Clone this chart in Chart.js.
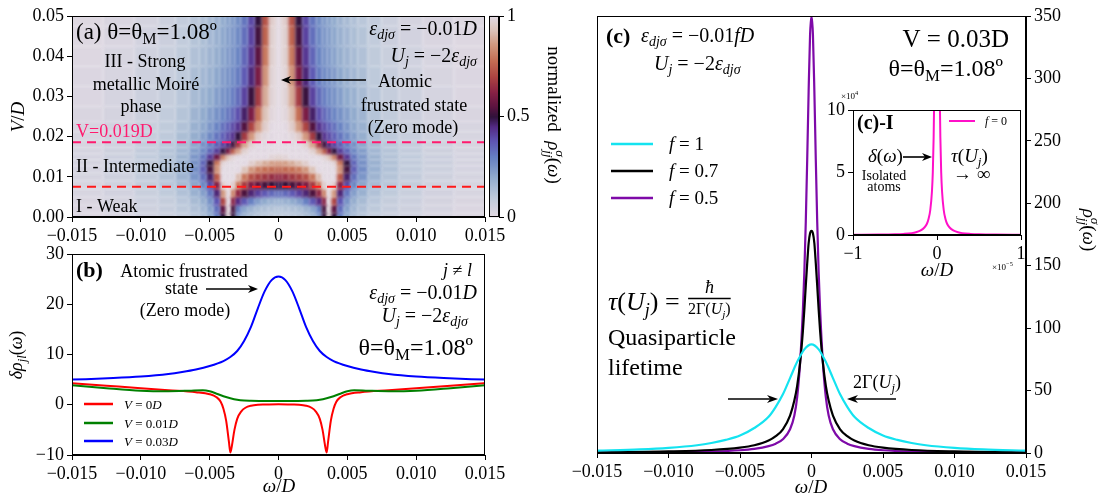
<!DOCTYPE html>
<html><head><meta charset="utf-8">
<script src="https://cdn.jsdelivr.net/npm/chart.js@4.4.0/dist/chart.umd.min.js"></script>
<style>
body{margin:0;background:#fff;width:1098px;height:500px;position:relative;overflow:hidden}
canvas{position:absolute}
</style></head>
<body>
<canvas id="pa" width="515" height="245" style="left:0;top:0"></canvas>
<canvas id="cb" width="85" height="245" style="left:480px;top:0"></canvas>
<canvas id="pb" width="515" height="265" style="left:0;top:235px"></canvas>
<canvas id="pc" width="538" height="500" style="left:560px;top:0"></canvas>
<canvas id="pi" width="228" height="197" style="left:810px;top:88px"></canvas>
<script>
// ---- panel (a): heat map, half profiles in |omega| (symmetric about 0)
const heatOmega = [0,0.0005,0.001,0.0015,0.002,0.0025,0.003,0.00335,0.0037,0.00405,0.0045,0.005,0.0055,0.006,0.007,0.008,0.0095,0.0115,0.014];
const heatV = [0,0.002,0.004,0.006,0.008,0.010,0.012,0.0135,0.015,0.0165,0.018,0.020,0.0225,0.025,0.030,0.035,0.040,0.045,0.050];
const heatRows = [
  [0.10,0.10,0.11,0.12,0.14,0.17,0.24,0.50,0.98,0.50,0.30,0.20,0.15,0.12,0.09,0.07,0.05,0.03,0.02],
  [0.12,0.12,0.13,0.14,0.17,0.21,0.30,0.52,0.99,0.55,0.33,0.22,0.16,0.13,0.10,0.075,0.055,0.035,0.02],
  [0.18,0.18,0.20,0.23,0.30,0.37,0.45,0.62,1.00,0.70,0.38,0.26,0.19,0.15,0.11,0.08,0.06,0.04,0.025],
  [0.33,0.34,0.37,0.41,0.46,0.53,0.63,0.82,1.00,0.86,0.46,0.32,0.23,0.18,0.13,0.095,0.07,0.045,0.03],
  [0.49,0.50,0.52,0.55,0.60,0.68,0.80,0.96,1.00,0.96,0.62,0.40,0.28,0.21,0.15,0.11,0.08,0.05,0.03],
  [0.64,0.65,0.67,0.69,0.72,0.80,0.92,1.00,1.00,1.00,0.74,0.47,0.33,0.25,0.17,0.12,0.085,0.055,0.035],
  [0.76,0.77,0.78,0.80,0.85,0.93,1.00,1.00,1.00,1.00,0.85,0.52,0.36,0.27,0.18,0.13,0.09,0.06,0.035],
  [0.86,0.87,0.89,0.92,0.96,1.00,1.00,1.00,1.00,0.98,0.80,0.50,0.35,0.26,0.18,0.13,0.09,0.06,0.035],
  [0.97,0.98,1.00,1.00,1.00,1.00,1.00,0.98,0.93,0.82,0.58,0.43,0.32,0.25,0.17,0.12,0.09,0.06,0.035],
  [1.00,1.00,1.00,1.00,1.00,0.97,0.88,0.75,0.60,0.50,0.42,0.35,0.28,0.23,0.16,0.12,0.085,0.055,0.035],
  [1.00,1.00,1.00,1.00,0.97,0.88,0.68,0.52,0.46,0.41,0.36,0.31,0.26,0.21,0.15,0.11,0.08,0.05,0.03],
  [1.00,1.00,0.99,0.96,0.86,0.68,0.50,0.44,0.40,0.36,0.32,0.28,0.23,0.19,0.14,0.10,0.075,0.05,0.03],
  [1.00,1.00,0.96,0.86,0.70,0.54,0.44,0.40,0.36,0.33,0.29,0.25,0.21,0.18,0.13,0.095,0.07,0.045,0.03],
  [1.00,0.99,0.93,0.78,0.60,0.47,0.39,0.35,0.32,0.29,0.26,0.23,0.20,0.17,0.12,0.09,0.065,0.04,0.025],
  [1.00,0.98,0.89,0.68,0.51,0.41,0.34,0.31,0.28,0.26,0.23,0.20,0.18,0.15,0.11,0.08,0.06,0.035,0.02],
  [1.00,0.98,0.85,0.60,0.46,0.37,0.31,0.28,0.26,0.24,0.21,0.18,0.16,0.14,0.10,0.075,0.055,0.03,0.02],
  [1.00,0.97,0.80,0.55,0.43,0.35,0.29,0.26,0.24,0.22,0.19,0.17,0.15,0.13,0.095,0.07,0.05,0.03,0.015],
  [1.00,0.97,0.76,0.52,0.41,0.33,0.28,0.25,0.23,0.21,0.18,0.16,0.14,0.12,0.09,0.065,0.045,0.025,0.015],
  [1.00,0.96,0.73,0.50,0.40,0.32,0.27,0.24,0.22,0.20,0.17,0.15,0.13,0.11,0.085,0.06,0.04,0.025,0.01]
];
const regionLines = [0.0186, 0.0075];

// ---- panel (b)
const bOmegaBlue = [-0.015,-0.012,-0.01,-0.008,-0.007,-0.006,-0.005,-0.004,-0.0035,-0.003,-0.0025,-0.002,-0.0015,-0.001,-0.0005,0,0.0005,0.001,0.0015,0.002,0.0025,0.003,0.0035,0.004,0.005,0.006,0.007,0.008,0.01,0.012,0.015];
const bBlue = [5.0,5.3,5.6,6.1,6.5,7.0,7.7,8.7,9.5,10.7,12.7,15.5,19.2,22.6,24.8,25.5,24.8,22.6,19.2,15.5,12.7,10.7,9.5,8.7,7.7,7.0,6.5,6.1,5.6,5.3,5.0];
const bOmegaRed = [-0.015,-0.0125,-0.01,-0.008,-0.006,-0.005,-0.0045,-0.0042,-0.004,-0.0038,-0.0036,-0.0035,-0.0034,-0.0032,-0.003,-0.0027,-0.0024,-0.002,-0.0015,-0.001,0,0.001,0.0015,0.002,0.0024,0.0027,0.003,0.0032,0.0034,0.0035,0.0036,0.0038,0.004,0.0042,0.0045,0.005,0.006,0.008,0.01,0.0125,0.015];
const bRed = [4.3,3.8,3.3,2.9,2.5,2.1,1.5,0.6,-0.8,-3.2,-7.4,-9.5,-8.4,-5.0,-2.8,-1.3,-0.6,-0.2,0.0,0.05,0.1,0.05,0.0,-0.2,-0.6,-1.3,-2.8,-5.0,-8.4,-9.5,-7.4,-3.2,-0.8,0.6,1.5,2.1,2.5,2.9,3.3,3.8,4.3];
const bOmegaGreen = [-0.015,-0.0125,-0.01,-0.008,-0.0065,-0.0055,-0.005,-0.0045,-0.004,-0.0035,-0.003,-0.0025,-0.002,-0.001,0,0.001,0.002,0.0025,0.003,0.0035,0.004,0.0045,0.005,0.0055,0.0065,0.008,0.01,0.0125,0.015];
const bGreen = [3.9,3.3,2.8,2.7,2.8,2.9,2.7,2.2,1.7,1.3,1.0,0.85,0.8,0.75,0.75,0.75,0.8,0.85,1.0,1.3,1.7,2.2,2.7,2.9,2.8,2.7,2.8,3.3,3.9];
const bLabels = ['V = 0D','V = 0.01D','V = 0.03D'];

// ---- panel (c)
const cOmegaCyan = [-0.015,-0.012,-0.01,-0.008,-0.007,-0.006,-0.005,-0.004,-0.003,-0.0025,-0.002,-0.0015,-0.001,-0.0005,0,0.0005,0.001,0.0015,0.002,0.0025,0.003,0.004,0.005,0.006,0.007,0.008,0.01,0.012,0.015];
const cCyan = [1.9,2.9,4.1,6.2,8.0,10.5,14,20,29,37,47,60,73,83,87,83,73,60,47,37,29,20,14,10.5,8.0,6.2,4.1,2.9,1.9];
const cOmegaNarrow = [-0.015,-0.01,-0.007,-0.005,-0.004,-0.003,-0.0025,-0.002,-0.0015,-0.0012,-0.001,-0.0008,-0.0006,-0.0005,-0.0004,-0.0003,-0.0002,-0.0001,0,0.0001,0.0002,0.0003,0.0004,0.0005,0.0006,0.0008,0.001,0.0012,0.0015,0.002,0.0025,0.003,0.004,0.005,0.007,0.01,0.015];
const cBlack = [0.6,1.3,2.4,4.3,6.2,10,13.5,19,30,42,54,72,98,115,134,152,168,176,178,176,168,152,134,115,98,72,54,42,30,19,13.5,10,6.2,4.3,2.4,1.3,0.6];
const cPurple = [0.3,0.6,1.2,2.2,3.3,5.5,7.5,11,19,30,45,72,115,145,185,235,290,335,350,335,290,235,185,145,115,72,45,30,19,11,7.5,5.5,3.3,2.2,1.2,0.6,0.3];
const cLabels = ['f = 1','f = 0.7','f = 0.5'];

// ---- inset (c)-I, x in 1e-5, y in 1e4
const iOmega = [-1,-0.7,-0.5,-0.4,-0.3,-0.25,-0.2,-0.15,-0.12,-0.1,-0.08,-0.06,-0.05,-0.04,-0.035,-0.03,-0.02,0,0.02,0.03,0.035,0.04,0.05,0.06,0.08,0.1,0.12,0.15,0.2,0.25,0.3,0.4,0.5,0.7,1];
const iF0 = [0.02,0.035,0.06,0.09,0.15,0.22,0.35,0.6,0.9,1.3,2.0,3.5,5.0,7.8,10.2,14,25,40,25,14,10.2,7.8,5.0,3.5,2.0,1.3,0.9,0.6,0.35,0.22,0.15,0.09,0.06,0.035,0.02];

const FONT = 'Liberation Serif';
Chart.defaults.font.family = FONT;
Chart.defaults.color = '#000';

// twilight colormap stops
const twStops = [
  [0.00,226,217,226],[0.10,190,202,219],[0.20,145,171,205],[0.30,102,128,194],
  [0.38,94,84,178],[0.45,84,43,133],[0.50,48,18,59],[0.55,92,20,64],
  [0.62,135,33,69],[0.70,173,69,66],[0.78,196,110,84],[0.86,210,153,128],
  [0.93,220,195,185],[1.00,226,217,226]
];
function twilight(v){
  v = Math.max(0, Math.min(1, v));
  for(let i=1;i<twStops.length;i++){
    const a=twStops[i-1], b=twStops[i];
    if(v<=b[0]){
      const t=(v-a[0])/(b[0]-a[0]);
      return `rgb(${Math.round(a[1]+(b[1]-a[1])*t)},${Math.round(a[2]+(b[2]-a[2])*t)},${Math.round(a[3]+(b[3]-a[3])*t)})`;
    }
  }
  return 'rgb(226,217,226)';
}

// rich text: segs = [[text, flags]]  i italic, b bold, _ sub, ^ sup, ! no advance
function rich(ctx, x, y, segs, size, align, color){
  ctx.save();
  ctx.fillStyle = color || '#000';
  ctx.textAlign = 'left';
  ctx.textBaseline = 'alphabetic';
  const parts = segs.map(([t, f='']) => {
    let s = size, dy = 0;
    if(f.includes('_')){ s = size*0.7; dy = size*0.22; }
    if(f.includes('^')){ s = size*0.7; dy = -size*0.4; }
    const font = (f.includes('i')?'italic ':'') + (f.includes('b')?'bold ':'') + s + 'px "' + FONT + '"';
    ctx.font = font;
    const w = ctx.measureText(t).width;
    return {t, font, dy, w, adv: f.includes('!') ? 0 : w};
  });
  const W = parts.reduce((a,p)=>a+p.adv,0);
  let cx = align==='center' ? x-W/2 : align==='right' ? x-W : x;
  for(const p of parts){ ctx.font=p.font; ctx.fillText(p.t, cx, y+p.dy); cx+=p.adv; }
  ctx.restore();
  return cx;
}
function richRot(ctx, x, y, segs, size, ang){
  ctx.save(); ctx.translate(x,y); ctx.rotate(ang);
  rich(ctx, 0, 0, segs, size, 'center');
  ctx.restore();
}
function arrow(ctx,x1,y1,x2,y2,hl,hw){
  hl = hl||10; hw = hw||4;
  const a=Math.atan2(y2-y1,x2-x1), c=Math.cos(a), s=Math.sin(a);
  ctx.save(); ctx.strokeStyle='#000'; ctx.fillStyle='#000'; ctx.lineWidth=1.6;
  ctx.beginPath(); ctx.moveTo(x1,y1); ctx.lineTo(x2-hl*c*0.7, y2-hl*s*0.7); ctx.stroke();
  ctx.beginPath(); ctx.moveTo(x2,y2);
  ctx.lineTo(x2-hl*c+hw*s, y2-hl*s-hw*c);
  ctx.lineTo(x2-hl*c*0.7, y2-hl*s*0.7);
  ctx.lineTo(x2-hl*c-hw*s, y2-hl*s+hw*c);
  ctx.closePath(); ctx.fill(); ctx.restore();
}

const fmtW = v => Math.abs(v)<1e-9 ? '0' : (v<0?'−':'') + Math.abs(v).toFixed(3);
const fmtInt = v => (v<0?'−':'') + Math.abs(Math.round(v*1000)/1000);

function axis(extra){
  return Object.assign({
    type:'linear',
    grid:{display:true, drawOnChartArea:false, drawTicks:true, tickLength:5, color:'#000', lineWidth:1},
    border:{display:true, color:'#000', width:1},
  }, extra);
}
function tk(extra){ return Object.assign({color:'#000', font:{family:FONT,size:18}, padding:3, maxRotation:0, autoSkip:false}, extra); }

const framePlugin = {
  id:'frame',
  afterDraw(chart){
    const {ctx, chartArea:a} = chart;
    ctx.save(); ctx.strokeStyle='#000'; ctx.lineWidth=1;
    ctx.strokeRect(Math.round(a.left)+0.5, Math.round(a.top)+0.5, Math.round(a.width)-1, Math.round(a.height)-1);
    ctx.restore();
  }
};
function textPlugin(id, offX, offY, fn){
  return {id, afterDraw(chart){ const ctx=chart.ctx; ctx.save(); ctx.translate(-offX,-offY); fn(ctx, chart); ctx.restore(); }};
}
const noLegend = {legend:{display:false}, tooltip:{enabled:false}};

// ---------- panel (a)
const heatPlugin = {
  id:'heat',
  beforeDatasetsDraw(chart){
    const {ctx, chartArea:a, scales:{x,y}} = chart;
    ctx.save();
    ctx.beginPath(); ctx.rect(a.left,a.top,a.width,a.height); ctx.clip();
    ctx.filter = 'blur(1.5px)';
    const nV = heatV.length, nW = heatOmega.length;
    for(let i=0;i<nV;i++){
      const v0 = i===0 ? -0.003 : (heatV[i-1]+heatV[i])/2;
      const v1 = i===nV-1 ? 0.053 : (heatV[i]+heatV[i+1])/2;
      const yt = y.getPixelForValue(v1), yb = y.getPixelForValue(v0);
      for(let j=0;j<nW;j++){
        const w0 = j===0 ? 0 : (heatOmega[j-1]+heatOmega[j])/2;
        const w1 = j===nW-1 ? 0.017 : (heatOmega[j]+heatOmega[j+1])/2;
        ctx.fillStyle = twilight(heatRows[i][j]);
        for(const sg of [1,-1]){
          const xa = x.getPixelForValue(sg*w0), xb = x.getPixelForValue(sg*w1);
          ctx.fillRect(Math.min(xa,xb)-0.5, yt-0.5, Math.abs(xb-xa)+1, yb-yt+1);
        }
      }
    }
    ctx.filter = 'none';
    // region boundaries
    ctx.lineWidth = 2; ctx.setLineDash([9,6]);
    regionLines.forEach((v,k)=>{
      const py = y.getPixelForValue(v);
      ctx.strokeStyle = k===0 ? '#ff1a6e' : '#ff1a1a';
      ctx.beginPath(); ctx.moveTo(a.left, py); ctx.lineTo(a.right, py); ctx.stroke();
    });
    ctx.restore();
  }
};
const textA = textPlugin('textA', 0, 0, ctx => {
  rich(ctx, 76, 39, [['(a) θ=θ',''],['M','_'],['=1.08º','']], 23);
  rich(ctx, 477, 35, [['ε','i'],['djσ','i_'],[' = −0.01',''],['D','i']], 20, 'right');
  rich(ctx, 477, 62, [['U','i'],['j','i_'],[' = −2',''],['ε','i'],['djσ','i_']], 20, 'right');
  rich(ctx, 145, 67, [['III - Strong','']], 18, 'center');
  rich(ctx, 146, 90, [['metallic Moiré','']], 18, 'center');
  rich(ctx, 141, 112, [['phase','']], 18, 'center');
  rich(ctx, 76, 137, [['V=0.019D','']], 18, 'left', '#ff1a6e');
  rich(ctx, 76, 172, [['II - Intermediate','']], 18);
  rich(ctx, 76, 212, [['I - Weak','']], 18);
  rich(ctx, 405, 87, [['Atomic','']], 18, 'center');
  rich(ctx, 414, 111, [['frustrated state','']], 18, 'center');
  rich(ctx, 413, 133, [['(Zero mode)','']], 18, 'center');
  arrow(ctx, 366, 80, 281, 80);
  richRot(ctx, 24, 117, [['V','i'],['/',''],['D','i']], 19, -Math.PI/2);
});
new Chart(document.getElementById('pa'), {
  type:'scatter',
  data:{datasets:[]},
  options:{
    responsive:false, animation:false,
    layout:{padding:{left:0, top:16, right:30, bottom:0}},
    plugins:noLegend,
    scales:{
      x: axis({min:-0.015, max:0.015, afterFit:s=>{s.height=28;}, ticks:tk({stepSize:0.005, callback:fmtW})}),
      y: axis({min:0, max:0.05, afterFit:s=>{s.width=72;}, ticks:tk({stepSize:0.01, callback:v=>v.toFixed(2)})})
    }
  },
  plugins:[heatPlugin, framePlugin, textA]
});

// ---------- colorbar
const cbPlugin = {
  id:'cbar',
  beforeDatasetsDraw(chart){
    const {ctx, chartArea:a, scales:{y}} = chart;
    for(let k=0;k<200;k++){
      const v=k/200, y0=y.getPixelForValue(v), y1=y.getPixelForValue(v+0.005);
      ctx.fillStyle = twilight(v+0.0025);
      ctx.fillRect(a.left, y1-0.5, a.width, y0-y1+1);
    }
  }
};
const textCb = textPlugin('textCb', 480, 0, ctx => {
  richRot(ctx, 548, 115, [['normalized  ',''],['ρ','i'],['σ','i^!'],['jj','i_'],['(',''],['ω','i'],[')','']], 19, Math.PI/2);
});
new Chart(document.getElementById('cb'), {
  type:'scatter',
  data:{datasets:[]},
  options:{
    responsive:false, animation:false,
    layout:{padding:{left:9, top:16, right:0, bottom:28}},
    plugins:noLegend,
    scales:{
      x:{display:false, min:0, max:1},
      y: axis({position:'right', min:0, max:1, afterFit:s=>{s.width=66;},
        afterBuildTicks:s=>{ s.ticks=[0,0.5,1].map(v=>({value:v})); },
        ticks:tk({callback:v=> v===0?'0':v===1?'1':'0.5'})})
    }
  },
  plugins:[cbPlugin, framePlugin, textCb]
});

// ---------- panel (b)
const bColors = ['#ff0000','#008000','#0000ff'];
const textB = textPlugin('textB', 0, 235, ctx => {
  rich(ctx, 76, 277, [['(b)','b']], 22);
  rich(ctx, 184, 277, [['Atomic frustrated','']], 18, 'center');
  rich(ctx, 165, 294, [['state','']], 18);
  arrow(ctx, 206, 289, 258, 289);
  rich(ctx, 185, 316, [['(Zero mode)','']], 18, 'center');
  rich(ctx, 472, 276, [['j','i'],[' ≠ ',''],['l','i']], 18, 'right');
  rich(ctx, 477, 299, [['ε','i'],['djσ','i_'],[' = −0.01',''],['D','i']], 20, 'right');
  rich(ctx, 468, 322, [['U','i'],['j','i_'],[' = −2',''],['ε','i'],['djσ','i_']], 20, 'right');
  rich(ctx, 473, 355, [['θ=θ',''],['M','_'],['=1.08º','']], 24, 'right');
  // legend
  const ly = [404, 423, 441];
  ly.forEach((yy,k)=>{
    ctx.save(); ctx.strokeStyle=bColors[k]; ctx.lineWidth=2.5;
    ctx.beginPath(); ctx.moveTo(84,yy); ctx.lineTo(113,yy); ctx.stroke(); ctx.restore();
    const p = bLabels[k].split(' = ');
    rich(ctx, 124, yy+5, [['V','i'],[' = '+p[1].replace('D',''),''],['D','i']], 13);
  });
  richRot(ctx, 22, 355, [['δρ','i'],['jl','i_'],['(',''],['ω','i'],[')','']], 18, -Math.PI/2);
  rich(ctx, 279, 492, [['ω','i'],['/',''],['D','i']], 19, 'center');
});
const xy = (xs, ys) => xs.map((x,i)=>({x, y:ys[i]}));
const lineDs = (label, xs, ys, color, w) => ({label, data:xy(xs,ys), borderColor:color, borderWidth:w||2, pointRadius:0, cubicInterpolationMode:'monotone', fill:false});
new Chart(document.getElementById('pb'), {
  type:'line',
  data:{datasets:[
    lineDs(bLabels[2], bOmegaBlue, bBlue, bColors[2]),
    lineDs(bLabels[1], bOmegaGreen, bGreen, bColors[1]),
    lineDs(bLabels[0], bOmegaRed, bRed, bColors[0])
  ]},
  options:{
    responsive:false, animation:false,
    layout:{padding:{left:0, top:19, right:30, bottom:0}},
    plugins:noLegend,
    scales:{
      x: axis({min:-0.015, max:0.015, afterFit:s=>{s.height=45;}, ticks:tk({stepSize:0.005, callback:fmtW})}),
      y: axis({min:-10, max:30, afterFit:s=>{s.width=72;}, ticks:tk({stepSize:10, callback:fmtInt})})
    }
  },
  plugins:[framePlugin, textB]
});

// ---------- panel (c)
const cColors = ['#14e3f0','#000000','#7e0aa8'];
const textC = textPlugin('textC', 560, 0, ctx => {
  rich(ctx, 606, 43, [['(c)','b']], 22);
  rich(ctx, 641, 42, [['ε','i'],['djσ','i_'],[' = −0.01',''],['fD','i']], 20);
  rich(ctx, 654, 70, [['U','i'],['j','i_'],[' = −2',''],['ε','i'],['djσ','i_']], 20);
  rich(ctx, 1009, 47, [['V = 0.03D','']], 25, 'right');
  rich(ctx, 1003, 76, [['θ=θ',''],['M','_'],['=1.08º','']], 24, 'right');
  const ly = [144, 171, 198];
  ly.forEach((yy,k)=>{
    ctx.save(); ctx.strokeStyle=cColors[k]; ctx.lineWidth=2.5;
    ctx.beginPath(); ctx.moveTo(611,yy); ctx.lineTo(653,yy); ctx.stroke(); ctx.restore();
    rich(ctx, 669, yy+6, [['f','i'],[' = '+cLabels[k].split(' = ')[1],'']], 19);
  });
  const fx = rich(ctx, 608, 310, [['τ','i'],['(',''],['U','i'],['j','i_'],[') = ','']], 26) + 2;
  const den = [['2Γ(',''],['U','i'],['j','i_'],[')','']];
  const dEnd = rich(ctx, fx, 314, den, 16);
  const dw = dEnd - fx;
  rich(ctx, fx + dw/2, 293, [['ħ','i']], 18, 'center');
  ctx.save(); ctx.lineWidth=1.3; ctx.strokeStyle='#000'; ctx.beginPath(); ctx.moveTo(fx,298.5); ctx.lineTo(fx+dw,298.5); ctx.stroke(); ctx.restore();
  rich(ctx, 608, 345, [['Quasiparticle','']], 24);
  rich(ctx, 608, 375, [['lifetime','']], 24);
  rich(ctx, 853, 388, [['2Γ(',''],['U','i'],['j','i_'],[')','']], 18);
  arrow(ctx, 728, 399, 778, 399, 11, 4);
  arrow(ctx, 896, 399, 847, 399, 11, 4);
  rich(ctx, 811, 493, [['ω','i'],['/',''],['D','i']], 19, 'center');
  richRot(ctx, 1083, 230, [['ρ','i'],['σ','i^!'],['jj','i_'],['(',''],['ω','i'],[')','']], 19, Math.PI/2);
});
new Chart(document.getElementById('pc'), {
  type:'line',
  data:{datasets:[
    lineDs(cLabels[0], cOmegaCyan, cCyan, cColors[0], 2.2),
    lineDs(cLabels[1], cOmegaNarrow, cBlack, cColors[1], 2.2),
    lineDs(cLabels[2], cOmegaNarrow, cPurple, cColors[2], 2.2)
  ]},
  options:{
    responsive:false, animation:false,
    layout:{padding:{left:37, top:16, right:0, bottom:0}},
    plugins:noLegend,
    scales:{
      x: axis({min:-0.015, max:0.015, afterFit:s=>{s.height=47;}, ticks:tk({stepSize:0.005, callback:fmtW})}),
      y: axis({position:'right', min:0, max:350, afterFit:s=>{s.width=72;}, ticks:tk({stepSize:50, callback:fmtInt})})
    }
  },
  plugins:[framePlugin, textC]
});

// ---------- inset (c)-I
const whiteBg = {id:'wbg', beforeDraw(chart){ const {ctx, chartArea:a}=chart; ctx.save(); ctx.fillStyle='#fff'; ctx.fillRect(a.left,a.top,a.width,a.height); ctx.restore(); }};
const textI = textPlugin('textI', 810, 88, ctx => {
  rich(ctx, 857, 129, [['(c)-I','b']], 20);
  ctx.save(); ctx.strokeStyle='#ff10c8'; ctx.lineWidth=2; ctx.beginPath(); ctx.moveTo(949,121); ctx.lineTo(975,121); ctx.stroke(); ctx.restore();
  rich(ctx, 985, 125, [['f','i'],[' = 0','']], 12);
  rich(ctx, 868, 162, [['δ','i'],['(',''],['ω','i'],[')','']], 19);
  arrow(ctx, 903, 157, 932, 157, 10, 4);
  rich(ctx, 884, 180, [['Isolated','']], 14, 'center');
  rich(ctx, 884, 191, [['atoms','']], 14, 'center');
  rich(ctx, 951, 162, [['τ','i'],['(',''],['U','i'],['j','i_'],[')','']], 19);
  rich(ctx, 953, 180, [['→ ∞','']], 19);
  rich(ctx, 841, 99, [['×10',''],['4','^']], 9);
  rich(ctx, 992, 270, [['×10',''],['−5','^']], 9);
  rich(ctx, 937, 276, [['ω','i'],['/',''],['D','i']], 19, 'center');
});
new Chart(document.getElementById('pi'), {
  type:'line',
  data:{datasets:[ lineDs('f = 0', iOmega, iF0, '#ff10c8', 2) ]},
  options:{
    responsive:false, animation:false,
    layout:{padding:{left:0, top:22, right:17, bottom:0}},
    plugins:noLegend,
    scales:{
      x: axis({min:-1, max:1, afterFit:s=>{s.height=50;}, ticks:tk({stepSize:1, callback:fmtInt})}),
      y: axis({min:0, max:10, afterFit:s=>{s.width=43;}, ticks:tk({stepSize:5, callback:fmtInt})})
    }
  },
  plugins:[whiteBg, framePlugin, textI]
});
</script>
</body></html>
